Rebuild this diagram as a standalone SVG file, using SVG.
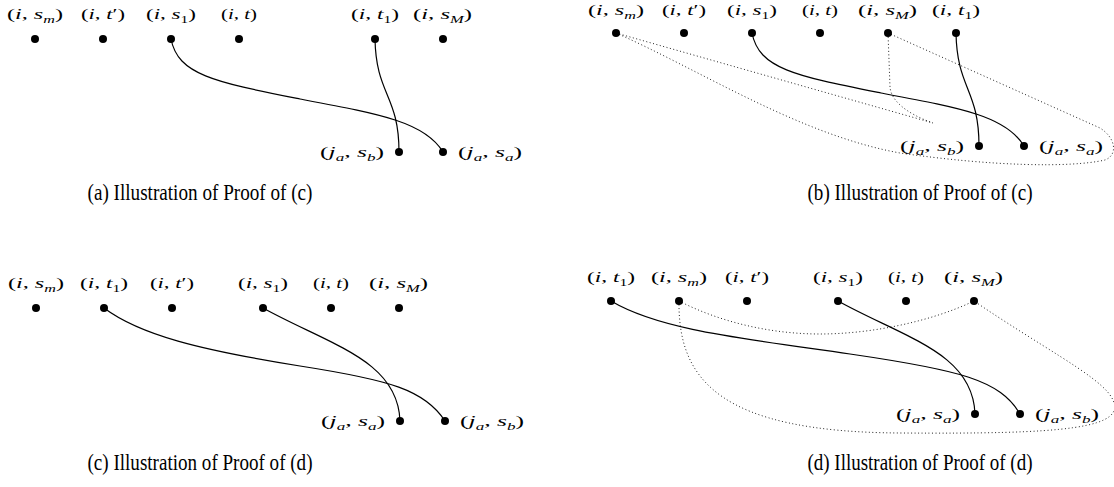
<svg xmlns="http://www.w3.org/2000/svg" width="1114" height="487" viewBox="0 0 1114 487">
<style>
.lbl{font-family:"Liberation Serif",serif;font-size:15px;fill:#000}
.it{font-style:italic}
.sub{font-size:10px}
.cap{font-family:"Liberation Serif",serif;font-size:23px;fill:#000;text-anchor:middle}
.dot{fill:#000}
.solid{fill:none;stroke:#000;stroke-width:1.2}
.dotted{fill:none;stroke:#222;stroke-width:1;stroke-dasharray:1 2.5}
</style>
<rect width="1114" height="487" fill="#fff"/>
<g id="connectors">
<path class="solid" d="M171,39 C178,75 215,82 300,99 C380,114 425,122 443,152"/>
<path class="solid" d="M375,39 C376,95 399,95 399,152"/>
<path class="dotted" d="M616,33 C700,70 800,135 900,153 C990,166 1070,168 1105,160 C1118,155 1116,138 1100,128 L888,33"/>
<path class="dotted" d="M616,33 L933,123 C905,113 891,100 890,87 L888,33"/>
<path class="solid" d="M752,33 C759,69 796,76 881,93 C961,108 1006,116 1024,146"/>
<path class="solid" d="M956,33 C957,89 979,89 979,146"/>
<path class="solid" d="M104,308 C140,335 200,350 300,366 C390,380 425,390 445,421"/>
<path class="solid" d="M263,308 C330,345 398,360 400,421"/>
<path class="dotted" d="M679,301 C720,322 770,334 820,334 C870,334 930,322 974,301"/>
<path class="dotted" d="M679,301 C678,380 720,432 900,433 C1060,434 1135,430 1110,395 C1095,374 1040,346 974,301"/>
<path class="solid" d="M611,301 C660,330 740,338 850,354 C960,370 1000,380 1020,414"/>
<path class="solid" d="M838,301 C905,338 973,353 975,414"/>
</g>
<g id="panel-a">
<g id="a-s_m"><circle class="dot" cx="35" cy="39" r="4"/><text class="lbl" x="7" y="19" textLength="56" lengthAdjust="spacingAndGlyphs">(<tspan class="it">i</tspan>, <tspan class="it">s</tspan><tspan class="it sub" dy="4">m</tspan><tspan dy="-4">)</tspan></text></g>
<g id="a-t_prime"><circle class="dot" cx="103" cy="39" r="4"/><text class="lbl" x="81" y="19" textLength="44" lengthAdjust="spacingAndGlyphs">(<tspan class="it">i</tspan>, <tspan class="it">t</tspan>′)</text></g>
<g id="a-s_1"><circle class="dot" cx="171" cy="39" r="4"/><text class="lbl" x="146" y="19" textLength="50" lengthAdjust="spacingAndGlyphs">(<tspan class="it">i</tspan>, <tspan class="it">s</tspan><tspan class="sub" dy="4">1</tspan><tspan dy="-4">)</tspan></text></g>
<g id="a-t"><circle class="dot" cx="239" cy="39" r="4"/><text class="lbl" x="221" y="19" textLength="36" lengthAdjust="spacingAndGlyphs">(<tspan class="it">i</tspan>, <tspan class="it">t</tspan>)</text></g>
<g id="a-t_1"><circle class="dot" cx="375" cy="39" r="4"/><text class="lbl" x="351" y="19" textLength="48" lengthAdjust="spacingAndGlyphs">(<tspan class="it">i</tspan>, <tspan class="it">t</tspan><tspan class="sub" dy="4">1</tspan><tspan dy="-4">)</tspan></text></g>
<g id="a-s_M"><circle class="dot" cx="443" cy="39" r="4"/><text class="lbl" x="413" y="19" textLength="59" lengthAdjust="spacingAndGlyphs">(<tspan class="it">i</tspan>, <tspan class="it">s</tspan><tspan class="it sub" dy="4">M</tspan><tspan dy="-4">)</tspan></text></g>
<g id="a-ja_sb"><circle class="dot" cx="399" cy="152" r="4"/><text class="lbl" x="320" y="157" textLength="64" lengthAdjust="spacingAndGlyphs">(<tspan class="it">j</tspan><tspan class="it sub" dy="4">a</tspan><tspan dy="-4">, </tspan><tspan class="it">s</tspan><tspan class="it sub" dy="4">b</tspan><tspan dy="-4">)</tspan></text></g>
<g id="a-ja_sa"><circle class="dot" cx="443" cy="152" r="4"/><text class="lbl" x="458" y="157" textLength="64" lengthAdjust="spacingAndGlyphs">(<tspan class="it">j</tspan><tspan class="it sub" dy="4">a</tspan><tspan dy="-4">, </tspan><tspan class="it">s</tspan><tspan class="it sub" dy="4">a</tspan><tspan dy="-4">)</tspan></text></g>
<text class="cap" x="200" y="200" textLength="225" lengthAdjust="spacingAndGlyphs">(a) Illustration of Proof of (c)</text>
</g>
<g id="panel-b">
<g id="b-s_m"><circle class="dot" cx="616" cy="33" r="4"/><text class="lbl" x="588" y="15" textLength="56" lengthAdjust="spacingAndGlyphs">(<tspan class="it">i</tspan>, <tspan class="it">s</tspan><tspan class="it sub" dy="4">m</tspan><tspan dy="-4">)</tspan></text></g>
<g id="b-t_prime"><circle class="dot" cx="684" cy="33" r="4"/><text class="lbl" x="662" y="15" textLength="44" lengthAdjust="spacingAndGlyphs">(<tspan class="it">i</tspan>, <tspan class="it">t</tspan>′)</text></g>
<g id="b-s_1"><circle class="dot" cx="752" cy="33" r="4"/><text class="lbl" x="727" y="15" textLength="50" lengthAdjust="spacingAndGlyphs">(<tspan class="it">i</tspan>, <tspan class="it">s</tspan><tspan class="sub" dy="4">1</tspan><tspan dy="-4">)</tspan></text></g>
<g id="b-t"><circle class="dot" cx="820" cy="33" r="4"/><text class="lbl" x="802" y="15" textLength="36" lengthAdjust="spacingAndGlyphs">(<tspan class="it">i</tspan>, <tspan class="it">t</tspan>)</text></g>
<g id="b-s_M"><circle class="dot" cx="888" cy="33" r="4"/><text class="lbl" x="858" y="15" textLength="59" lengthAdjust="spacingAndGlyphs">(<tspan class="it">i</tspan>, <tspan class="it">s</tspan><tspan class="it sub" dy="4">M</tspan><tspan dy="-4">)</tspan></text></g>
<g id="b-t_1"><circle class="dot" cx="956" cy="33" r="4"/><text class="lbl" x="932" y="15" textLength="48" lengthAdjust="spacingAndGlyphs">(<tspan class="it">i</tspan>, <tspan class="it">t</tspan><tspan class="sub" dy="4">1</tspan><tspan dy="-4">)</tspan></text></g>
<g id="b-ja_sb"><circle class="dot" cx="979" cy="146" r="4"/><text class="lbl" x="900" y="151" textLength="64" lengthAdjust="spacingAndGlyphs">(<tspan class="it">j</tspan><tspan class="it sub" dy="4">a</tspan><tspan dy="-4">, </tspan><tspan class="it">s</tspan><tspan class="it sub" dy="4">b</tspan><tspan dy="-4">)</tspan></text></g>
<g id="b-ja_sa"><circle class="dot" cx="1024" cy="146" r="4"/><text class="lbl" x="1039" y="151" textLength="64" lengthAdjust="spacingAndGlyphs">(<tspan class="it">j</tspan><tspan class="it sub" dy="4">a</tspan><tspan dy="-4">, </tspan><tspan class="it">s</tspan><tspan class="it sub" dy="4">a</tspan><tspan dy="-4">)</tspan></text></g>
<text class="cap" x="920" y="200" textLength="225" lengthAdjust="spacingAndGlyphs">(b) Illustration of Proof of (c)</text>
</g>
<g id="panel-c">
<g id="c-s_m"><circle class="dot" cx="36" cy="308" r="4"/><text class="lbl" x="8" y="288" textLength="56" lengthAdjust="spacingAndGlyphs">(<tspan class="it">i</tspan>, <tspan class="it">s</tspan><tspan class="it sub" dy="4">m</tspan><tspan dy="-4">)</tspan></text></g>
<g id="c-t_1"><circle class="dot" cx="104" cy="308" r="4"/><text class="lbl" x="80" y="288" textLength="48" lengthAdjust="spacingAndGlyphs">(<tspan class="it">i</tspan>, <tspan class="it">t</tspan><tspan class="sub" dy="4">1</tspan><tspan dy="-4">)</tspan></text></g>
<g id="c-t_prime"><circle class="dot" cx="172" cy="308" r="4"/><text class="lbl" x="150" y="288" textLength="44" lengthAdjust="spacingAndGlyphs">(<tspan class="it">i</tspan>, <tspan class="it">t</tspan>′)</text></g>
<g id="c-s_1"><circle class="dot" cx="263" cy="308" r="4"/><text class="lbl" x="238" y="288" textLength="50" lengthAdjust="spacingAndGlyphs">(<tspan class="it">i</tspan>, <tspan class="it">s</tspan><tspan class="sub" dy="4">1</tspan><tspan dy="-4">)</tspan></text></g>
<g id="c-t"><circle class="dot" cx="331" cy="308" r="4"/><text class="lbl" x="313" y="288" textLength="36" lengthAdjust="spacingAndGlyphs">(<tspan class="it">i</tspan>, <tspan class="it">t</tspan>)</text></g>
<g id="c-s_M"><circle class="dot" cx="399" cy="308" r="4"/><text class="lbl" x="369" y="288" textLength="59" lengthAdjust="spacingAndGlyphs">(<tspan class="it">i</tspan>, <tspan class="it">s</tspan><tspan class="it sub" dy="4">M</tspan><tspan dy="-4">)</tspan></text></g>
<g id="c-ja_sa"><circle class="dot" cx="400" cy="421" r="4"/><text class="lbl" x="321" y="426" textLength="64" lengthAdjust="spacingAndGlyphs">(<tspan class="it">j</tspan><tspan class="it sub" dy="4">a</tspan><tspan dy="-4">, </tspan><tspan class="it">s</tspan><tspan class="it sub" dy="4">a</tspan><tspan dy="-4">)</tspan></text></g>
<g id="c-ja_sb"><circle class="dot" cx="445" cy="421" r="4"/><text class="lbl" x="460" y="426" textLength="64" lengthAdjust="spacingAndGlyphs">(<tspan class="it">j</tspan><tspan class="it sub" dy="4">a</tspan><tspan dy="-4">, </tspan><tspan class="it">s</tspan><tspan class="it sub" dy="4">b</tspan><tspan dy="-4">)</tspan></text></g>
<text class="cap" x="200" y="470" textLength="225" lengthAdjust="spacingAndGlyphs">(c) Illustration of Proof of (d)</text>
</g>
<g id="panel-d">
<g id="d-t_1"><circle class="dot" cx="611" cy="301" r="4"/><text class="lbl" x="587" y="282" textLength="48" lengthAdjust="spacingAndGlyphs">(<tspan class="it">i</tspan>, <tspan class="it">t</tspan><tspan class="sub" dy="4">1</tspan><tspan dy="-4">)</tspan></text></g>
<g id="d-s_m"><circle class="dot" cx="679" cy="301" r="4"/><text class="lbl" x="651" y="282" textLength="56" lengthAdjust="spacingAndGlyphs">(<tspan class="it">i</tspan>, <tspan class="it">s</tspan><tspan class="it sub" dy="4">m</tspan><tspan dy="-4">)</tspan></text></g>
<g id="d-t_prime"><circle class="dot" cx="747" cy="301" r="4"/><text class="lbl" x="725" y="282" textLength="44" lengthAdjust="spacingAndGlyphs">(<tspan class="it">i</tspan>, <tspan class="it">t</tspan>′)</text></g>
<g id="d-s_1"><circle class="dot" cx="838" cy="301" r="4"/><text class="lbl" x="813" y="282" textLength="50" lengthAdjust="spacingAndGlyphs">(<tspan class="it">i</tspan>, <tspan class="it">s</tspan><tspan class="sub" dy="4">1</tspan><tspan dy="-4">)</tspan></text></g>
<g id="d-t"><circle class="dot" cx="906" cy="301" r="4"/><text class="lbl" x="888" y="282" textLength="36" lengthAdjust="spacingAndGlyphs">(<tspan class="it">i</tspan>, <tspan class="it">t</tspan>)</text></g>
<g id="d-s_M"><circle class="dot" cx="974" cy="301" r="4"/><text class="lbl" x="944" y="282" textLength="59" lengthAdjust="spacingAndGlyphs">(<tspan class="it">i</tspan>, <tspan class="it">s</tspan><tspan class="it sub" dy="4">M</tspan><tspan dy="-4">)</tspan></text></g>
<g id="d-ja_sa"><circle class="dot" cx="975" cy="414" r="4"/><text class="lbl" x="896" y="419" textLength="64" lengthAdjust="spacingAndGlyphs">(<tspan class="it">j</tspan><tspan class="it sub" dy="4">a</tspan><tspan dy="-4">, </tspan><tspan class="it">s</tspan><tspan class="it sub" dy="4">a</tspan><tspan dy="-4">)</tspan></text></g>
<g id="d-ja_sb"><circle class="dot" cx="1020" cy="414" r="4"/><text class="lbl" x="1035" y="419" textLength="64" lengthAdjust="spacingAndGlyphs">(<tspan class="it">j</tspan><tspan class="it sub" dy="4">a</tspan><tspan dy="-4">, </tspan><tspan class="it">s</tspan><tspan class="it sub" dy="4">b</tspan><tspan dy="-4">)</tspan></text></g>
<text class="cap" x="920" y="470" textLength="225" lengthAdjust="spacingAndGlyphs">(d) Illustration of Proof of (d)</text>
</g>
</svg>
